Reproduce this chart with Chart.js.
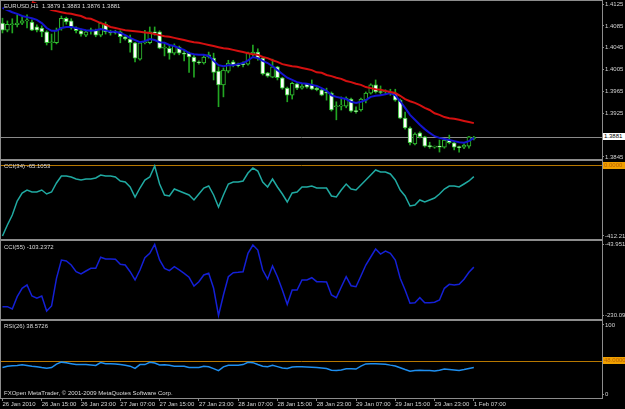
<!DOCTYPE html>
<html>
<head>
<meta charset="utf-8">
<script src="https://cdn.jsdelivr.net/npm/chart.js@4.4.1/dist/chart.umd.min.js"></script>
<style>
body{margin:0;background:#000;width:625px;height:409px;overflow:hidden;position:relative;font-family:'Liberation Sans',Arial,sans-serif;}
canvas{position:absolute;left:0;}
.t{position:absolute;font-size:6px;line-height:7px;color:#dcdcdc;white-space:nowrap;}
.box{position:absolute;left:603px;width:21px;height:7px;font-size:6px;line-height:7px;padding-left:1px;white-space:nowrap;overflow:hidden;}
</style>
</head>
<body>
<canvas id="pPrice" width="625" height="160" style="top:0"></canvas>
<canvas id="pCci34" width="625" height="80" style="top:160px"></canvas>
<canvas id="pCci55" width="625" height="80" style="top:240px"></canvas>
<canvas id="pRsi" width="625" height="89" style="top:320px"></canvas>

<div class="t" style="left:4px;top:3px;background:#000;padding-right:1px">EURUSD,H1&nbsp; 1.3879 1.3883 1.3876 1.3881</div>
<div class="t" style="left:4px;top:163px">CCI(34) -65.1053</div>
<div class="t" style="left:4px;top:244px">CCI(55) -103.2372</div>
<div class="t" style="left:4px;top:323px">RSI(26) 38.5726</div>
<div class="t" style="left:4px;top:390px">FXOpen MetaTrader, © 2001-2009 MetaQuotes Software Corp.</div>
<div class="box" style="top:133px;background:#fff;color:#000">1.3881</div>
<div class="box" style="top:162px;background:#f0a000;color:#b86000">0.0000</div>
<div class="box" style="top:357px;background:#f0a000;color:#b86000">48.0000</div>

<script>
// x axis labels, one every 8 hourly bars
const timeLabels = ['26 Jan 2010','26 Jan 15:00','26 Jan 23:00','27 Jan 07:00','27 Jan 15:00','27 Jan 23:00',
  '28 Jan 07:00','28 Jan 15:00','28 Jan 23:00','29 Jan 07:00','29 Jan 15:00','29 Jan 23:00','1 Feb 07:00'];

// EURUSD H1 candles
const open = [1.4090,1.4077,1.4087,1.4087,1.4090,1.4094,1.4092,1.4083,1.4081,1.4074,
  1.4054,1.4054,1.4081,1.4099,1.4094,1.4081,1.4076,1.4068,1.4076,1.4077,
  1.4068,1.4088,1.4074,1.4074,1.4074,1.4065,1.4061,1.4054,1.4024,1.4054,
  1.4054,1.4074,1.4074,1.4044,1.4044,1.4035,1.4046,1.4035,1.4035,1.4028,
  1.4019,1.4017,1.4032,1.4026,1.4002,1.3977,1.4002,1.4019,1.4013,1.4015,
  1.4015,1.4033,1.4037,1.4026,1.3999,1.3991,1.4010,1.3990,1.3971,1.3958,
  1.3979,1.3971,1.3979,1.3977,1.3971,1.3968,1.3964,1.3962,1.3937,1.3938,
  1.3938,1.3951,1.3929,1.3931,1.3949,1.3962,1.3977,1.3964,1.3964,1.3964,
  1.3962,1.3949,1.3916,1.3898,1.3869,1.3889,1.3882,1.3865,1.3863,1.3865,
  1.3863,1.3876,1.3871,1.3863,1.3863,1.3865,1.3879];
const close = [1.4077,1.4088,1.4088,1.4090,1.4094,1.4096,1.4077,1.4077,1.4074,1.4054,
  1.4055,1.4077,1.4099,1.4092,1.4083,1.4076,1.4070,1.4074,1.4077,1.4068,
  1.4090,1.4074,1.4072,1.4072,1.4065,1.4061,1.4054,1.4026,1.4054,1.4055,
  1.4074,1.4072,1.4044,1.4046,1.4035,1.4048,1.4035,1.4033,1.4028,1.4019,
  1.4017,1.4028,1.4028,1.4000,1.3977,1.4004,1.4017,1.4013,1.4012,1.4014,
  1.4035,1.4037,1.4026,1.3997,1.3993,1.4010,1.3990,1.3971,1.3958,1.3980,
  1.3971,1.3975,1.3973,1.3969,1.3968,1.3958,1.3962,1.3931,1.3938,1.3940,
  1.3953,1.3929,1.3928,1.3951,1.3962,1.3977,1.3964,1.3963,1.3965,1.3962,
  1.3949,1.3916,1.3898,1.3871,1.3887,1.3882,1.3865,1.3864,1.3864,1.3863,
  1.3876,1.3871,1.3863,1.3862,1.3867,1.3882,1.3881];
const high = [1.4099,1.4094,1.4098,1.4105,1.4101,1.4105,1.4096,1.4087,1.4085,1.4076,
  1.4070,1.4081,1.4103,1.4101,1.4098,1.4083,1.4079,1.4077,1.4081,1.4079,
  1.4092,1.4092,1.4077,1.4077,1.4076,1.4066,1.4068,1.4055,1.4055,1.4077,
  1.4083,1.4083,1.4076,1.4055,1.4050,1.4052,1.4048,1.4041,1.4037,1.4032,
  1.4021,1.4032,1.4037,1.4035,1.4010,1.4008,1.4022,1.4022,1.4017,1.4019,
  1.4037,1.4050,1.4043,1.4028,1.4000,1.4024,1.4011,1.3991,1.3973,1.3982,
  1.3980,1.3979,1.3980,1.3986,1.3973,1.3969,1.3971,1.3964,1.3946,1.3955,
  1.3955,1.3953,1.3937,1.3953,1.3964,1.3979,1.3986,1.3975,1.3968,1.3969,
  1.3969,1.3951,1.3927,1.3900,1.3889,1.3891,1.3883,1.3872,1.3865,1.3876,
  1.3878,1.3885,1.3872,1.3865,1.3869,1.3883,1.3883];
const low = [1.4072,1.4074,1.4072,1.4083,1.4087,1.4081,1.4076,1.4074,1.4065,1.4050,
  1.4041,1.4052,1.4077,1.4088,1.4079,1.4072,1.4066,1.4065,1.4070,1.4065,
  1.4065,1.4070,1.4068,1.4070,1.4054,1.4059,1.4037,1.4019,1.4022,1.4052,
  1.4052,1.4068,1.4043,1.4030,1.4024,1.4032,1.4032,1.4021,1.4000,1.3991,
  1.4015,1.4015,1.4026,1.3986,1.3937,1.3955,1.3999,1.4010,1.4010,1.4010,
  1.4013,1.4030,1.4022,1.3995,1.3991,1.3990,1.3986,1.3969,1.3946,1.3951,
  1.3968,1.3969,1.3971,1.3968,1.3966,1.3957,1.3949,1.3929,1.3913,1.3931,
  1.3935,1.3927,1.3925,1.3929,1.3944,1.3960,1.3962,1.3960,1.3960,1.3958,
  1.3947,1.3915,1.3896,1.3867,1.3867,1.3880,1.3863,1.3861,1.3861,1.3854,
  1.3861,1.3869,1.3858,1.3854,1.3860,1.3861,1.3876];

// moving averages
const maFast = [1.4118,1.4114,1.4110,1.4107,1.4103,1.4101,1.4099,1.4096,1.4090,1.4081,
  1.4076,1.4076,1.4081,1.4083,1.4083,1.4081,1.4079,1.4077,1.4076,1.4077,
  1.4079,1.4077,1.4074,1.4074,1.4072,1.4068,1.4063,1.4059,1.4055,1.4057,
  1.4061,1.4059,1.4055,1.4054,1.4050,1.4048,1.4044,1.4041,1.4035,1.4033,
  1.4032,1.4032,1.4030,1.4021,1.4013,1.4011,1.4013,1.4013,1.4015,1.4017,
  1.4022,1.4028,1.4026,1.4021,1.4017,1.4011,1.4004,1.3997,1.3990,1.3986,
  1.3982,1.3980,1.3979,1.3977,1.3975,1.3971,1.3966,1.3958,1.3955,1.3953,
  1.3951,1.3946,1.3944,1.3946,1.3949,1.3955,1.3957,1.3958,1.3960,1.3962,
  1.3958,1.3947,1.3935,1.3922,1.3913,1.3904,1.3896,1.3889,1.3883,1.3880,
  1.3878,1.3876,1.3874,1.3872,1.3871,1.3874,1.3880];
const maSlow = [null,null,null,null,null,null,1.4129,1.4125,1.4121,1.4118,
  1.4114,1.4112,1.4110,1.4108,1.4107,1.4105,1.4103,1.4099,1.4098,1.4094,
  1.4090,1.4087,1.4083,1.4081,1.4079,1.4077,1.4076,1.4075,1.4074,1.4073,
  1.4072,1.4070,1.4068,1.4066,1.4065,1.4063,1.4061,1.4059,1.4057,1.4055,
  1.4054,1.4052,1.4050,1.4048,1.4046,1.4044,1.4043,1.4041,1.4039,1.4037,
  1.4035,1.4033,1.4032,1.4028,1.4026,1.4022,1.4019,1.4015,1.4013,1.4011,
  1.4010,1.4008,1.4006,1.4004,1.4000,1.3999,1.3995,1.3993,1.3990,1.3988,
  1.3984,1.3982,1.3979,1.3977,1.3973,1.3971,1.3969,1.3968,1.3966,1.3964,
  1.3962,1.3957,1.3951,1.3947,1.3944,1.3940,1.3935,1.3931,1.3925,1.3922,
  1.3918,1.3916,1.3915,1.3913,1.3911,1.3909,1.3907];

// indicators
const cci34 = [-412.214,-347.9,-289.4,-207.6,-160.8,-143.3,-154.9,-154.9,-143.3,-166.6,
  -154.9,-102.3,-61.4,-61.4,-67.2,-78.9,-84.8,-78.9,-78.9,-73.1,
  -55.5,-61.4,-61.4,-67.2,-90.6,-96.5,-125.7,-184.2,-131.6,-84.8,
  -67.2,-2.9,-108.2,-172.5,-178.3,-137.4,-149.1,-160.8,-172.5,-201.7,
  -166.6,-131.6,-119.9,-172.5,-242.7,-172.5,-108.2,-96.5,-96.5,-90.6,
  -43.9,-14.6,-32.2,-96.5,-125.7,-78.9,-125.7,-166.6,-213.4,-160.8,
  -154.9,-125.7,-125.7,-119.9,-131.6,-131.6,-131.6,-178.3,-184.2,-143.3,
  -108.2,-137.4,-143.3,-114.0,-84.8,-55.5,-26.3,-38.0,-38.0,-49.7,
  -84.8,-143.3,-178.3,-236.8,-231.0,-201.7,-213.4,-201.7,-190.0,-166.6,
  -137.4,-119.9,-119.9,-125.7,-108.2,-90.6,-65.1053];
const cci55 = [-207.0,-207.0,-213.1,-180.8,-158.8,-150.1,-179.0,-185.0,-179.0,-218.3,
  -205.2,-132.6,-84.6,-87.2,-97.7,-115.3,-121.3,-113.4,-106.4,-106.4,
  -77.5,-82.0,-82.0,-82.8,-95.9,-97.7,-115.3,-137.0,-110.8,-78.6,
  -67.0,-43.9515,-84.6,-106.4,-112.6,-102.2,-110.8,-119.5,-129.9,-152.8,
  -141.5,-123.9,-119.5,-158.8,-230.098,-176.4,-128.4,-117.9,-116.8,-115.3,
  -67.0,-45.3,-58.4,-110.8,-134.4,-100.3,-128.4,-163.3,-200.8,-163.3,
  -163.3,-137.0,-137.0,-131.0,-141.5,-141.5,-142.3,-176.4,-183.4,-155.4,
  -128.4,-152.0,-154.6,-126.6,-97.7,-76.7,-55.8,-68.9,-61.0,-67.0,
  -84.6,-132.6,-163.3,-198.1,-196.6,-183.4,-196.6,-196.6,-195.5,-189.5,
  -158.8,-148.3,-150.1,-148.3,-135.2,-116.8,-103.2372];
const rsi26 = [38.6,40.6,41.2,41.6,42.6,41.6,40.4,39.9,38.6,37.7,
  38.6,43.5,46.4,45.5,44.2,42.9,42.9,42.9,42.2,41.6,
  45.8,44.2,44.2,43.8,42.9,41.9,40.6,37.3,42.9,42.9,
  46.1,45.1,42.2,42.5,41.8,40.6,40.6,40.3,38.6,38.6,
  38.6,40.3,39.6,37.0,34.2,39.6,41.9,41.9,41.9,42.9,
  46.1,45.7,42.9,40.6,39.9,41.9,39.9,37.9,37.3,39.4,
  39.6,39.9,39.5,39.1,38.6,38.1,37.3,34.7,34.4,35.1,
  37.0,36.9,36.4,40.6,43.9,44.2,44.2,43.9,43.5,42.1,
  40.9,38.3,35.7,33.4,34.4,34.8,34.2,34.2,33.8,34.8,
  36.4,35.8,35.1,34.5,35.7,37.3,38.5726];

// right axis labels per pane
const priceTicks = [1.4125,1.4085,1.4045,1.4005,1.3965,1.3925,1.3845];
const cci34Ticks = [-412.214];
const cci34TickLabels = ['-412.214'];
const cci55Ticks = [-43.9515,-230.098];
const cci55TickLabels = ['-43.9515','-230.098'];
const rsiTicks = [100,0];
const rsiTickLabels = ['100','0'];

Chart.defaults.font.family = "'Liberation Sans', Arial, sans-serif";
Chart.defaults.font.size = 6;
Chart.defaults.color = '#d4d4d4';

const frameColor = '#8c8c8c';
const xMin = -0.3, xMax = 122.1;

const paneDecor = {
  id: 'paneDecor',
  beforeDatasetsDraw(chart, args, opts) {
    const {ctx, chartArea: a} = chart;
    const y = chart.scales.y;
    ctx.save();
    (opts.levels || []).forEach(l => {
      const py = Math.round(y.getPixelForValue(l.value)) + 0.5;
      ctx.strokeStyle = l.color;
      ctx.lineWidth = 1;
      ctx.beginPath();
      ctx.moveTo(a.left, py);
      ctx.lineTo(a.right, py);
      ctx.stroke();
    });
    ctx.restore();
  },
  afterDraw(chart) {
    const {ctx, chartArea: a} = chart;
    ctx.save();
    ctx.strokeStyle = frameColor;
    ctx.lineWidth = 1;
    ctx.strokeRect(a.left - 0.5, a.top - 0.5, a.right - a.left + 1, a.bottom - a.top + 1);
    ctx.restore();
  }
};

function pts(arr) {
  return arr.map((v, i) => v === null ? null : {x: i, y: v}).filter(p => p);
}

function lineSet(arr, color, width) {
  return {type: 'line', data: pts(arr), borderColor: color, borderWidth: width,
    pointRadius: 0, tension: 0, fill: false, order: 0};
}

function noPad(a) {
  a.paddingTop = 0; a.paddingBottom = 0; a.paddingLeft = 0; a.paddingRight = 0;
}

function paneOptions(yMin, yMax, ticks, tickLabels, levels, showX) {
  return {
    responsive: false,
    animation: false,
    events: [],
    layout: {padding: {left: 1, right: 0, top: 1, bottom: showX ? 0 : 1}},
    plugins: {legend: {display: false}, tooltip: {enabled: false}, paneDecor: {levels: levels}},
    scales: {
      x: {
        type: 'linear', min: xMin, max: xMax, offset: false, display: showX,
        afterFit: a => { noPad(a); if (showX) a.height = 11; },
        afterBuildTicks: a => { a.ticks = timeLabels.map((s, i) => ({value: i * 8})); },
        ticks: {callback: (v, i) => timeLabels[i], align: 'start', maxRotation: 0, autoSkip: false, padding: 0},
        grid: {drawOnChartArea: false, tickLength: 3, color: frameColor},
        border: {color: frameColor}
      },
      y: {
        position: 'right', min: yMin, max: yMax,
        afterFit: a => { a.width = 23; noPad(a); },
        afterBuildTicks: a => { a.ticks = ticks.map(v => ({value: v})); },
        ticks: {callback: (v, i) => tickLabels[i], autoSkip: false, padding: 1},
        grid: {drawOnChartArea: false, tickLength: 2, color: frameColor},
        border: {color: frameColor}
      }
    }
  };
}

// price pane
new Chart(document.getElementById('pPrice'), {
  type: 'bar',
  data: {
    datasets: [
      lineSet(maSlow, '#d41010', 2),
      lineSet(maFast, '#1414d0', 2),
      {
        data: open.map((o, i) => ({x: i, y: [o, close[i]]})),
        backgroundColor: open.map((o, i) => close[i] > o ? '#000000' : '#ffffff'),
        borderColor: '#33c433', borderWidth: 1, borderSkipped: false,
        barThickness: 4, minBarLength: 1, grouped: false, order: 1
      },
      {
        data: high.map((h, i) => ({x: i, y: [low[i], h]})),
        backgroundColor: '#22a622', borderWidth: 0,
        barThickness: 1, grouped: false, order: 2
      }
    ]
  },
  options: paneOptions(1.38413, 1.41305, priceTicks, priceTicks.map(v => v.toFixed(4)),
    [{value: 1.3881, color: '#8a8a8a'}], false),
  plugins: [paneDecor]
});

// CCI(34)
new Chart(document.getElementById('pCci34'), {
  type: 'line',
  data: {datasets: [lineSet(cci34, '#20aaa2', 1.5)]},
  options: paneOptions(-429.8, 26.3, cci34Ticks, cci34TickLabels, [{value: 0, color: '#b87800'}], false),
  plugins: [paneDecor]
});

// CCI(55)
new Chart(document.getElementById('pCci55'), {
  type: 'line',
  data: {datasets: [lineSet(cci55, '#1420d6', 1.5)]},
  options: paneOptions(-239.29, -34.77, cci55Ticks, cci55TickLabels, [], false),
  plugins: [paneDecor]
});

// RSI(26)
new Chart(document.getElementById('pRsi'), {
  type: 'line',
  data: {datasets: [lineSet(rsi26, '#1e8ff0', 1.5)]},
  options: paneOptions(-5.34, 105.77, rsiTicks, rsiTickLabels, [{value: 48, color: '#b87800'}], true),
  plugins: [paneDecor]
});
</script>
</body>
</html>
